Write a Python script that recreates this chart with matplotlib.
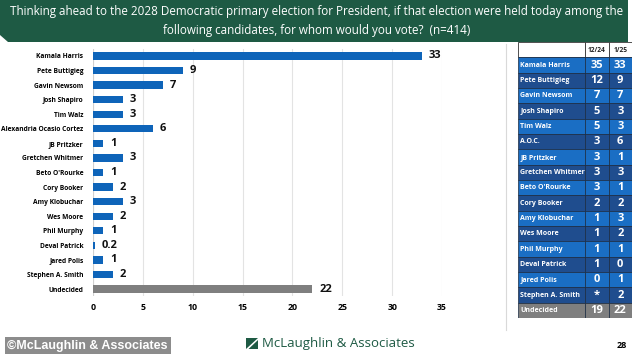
import matplotlib
matplotlib.use("Agg")
import matplotlib.pyplot as plt
from matplotlib.patches import Rectangle, Polygon

candidates = ["Kamala Harris", "Pete Buttigieg", "Gavin Newsom", "Josh Shapiro", "Tim Walz",
              "Alexandria Ocasio Cortez", "JB Pritzker", "Gretchen Whitmer", "Beto O'Rourke",
              "Cory Booker", "Amy Klobuchar", "Wes Moore", "Phil Murphy", "Deval Patrick",
              "Jared Polis", "Stephen A. Smith", "Undecided"]
values = [33, 9, 7, 3, 3, 6, 1, 3, 1, 2, 3, 2, 1, 0.2, 1, 2, 22]
value_labels = ["33", "9", "7", "3", "3", "6", "1", "3", "1", "2", "3", "2", "1", "0.2", "1", "2", "22"]
xticks = [0, 5, 10, 15, 20, 25, 30, 35]

table_names = ["Kamala Harris", "Pete Buttigieg", "Gavin Newsom", "Josh Shapiro", "Tim Walz",
               "A.O.C.", "JB Pritzker", "Gretchen Whitmer", "Beto O'Rourke", "Cory Booker",
               "Amy Klobuchar", "Wes Moore", "Phil Murphy", "Deval Patrick", "Jared Polis",
               "Stephen A. Smith", "Undecided"]
dec24 = ["35", "12", "7", "5", "5", "3", "3", "3", "3", "2", "1", "1", "1", "1", "0", "*", "19"]
jan25 = ["33", "9", "7", "3", "3", "6", "1", "3", "1", "2", "3", "2", "1", "0", "1", "2", "22"]
col_headers = ["12/24", "1/25"]

title = ("Thinking ahead to the 2028 Democratic primary election for President, if that election were held today among the\n"
         "following candidates, for whom would you vote?  (n=414)")

W, H = 634, 354
fig = plt.figure(figsize=(W / 100, H / 100), dpi=100)
fig.patch.set_facecolor("white")
FONT = ["Open Sans", "DejaVu Sans"]

def fx(px):
    return px / W

def fy(py):
    return 1 - py / H

bg = fig.add_axes([0, 0, 1, 1], zorder=0)
bg.set_xlim(0, W)
bg.set_ylim(H, 0)
bg.axis("off")
green = "#1e5a44"
bg.add_patch(Polygon([[0, 0], [628, 0], [628, 42], [8, 42], [0, 35]], closed=True,
                     facecolor=green, edgecolor="none"))
bg.text(317, 21, title, ha="center", va="center", color="white", fontsize=8.4,
        family=FONT, linespacing=1.55)

bg.plot([506, 506], [44, 330], color="#d9d9d9", lw=0.8)

bg.add_patch(Rectangle((5, 337), 166, 17, facecolor="#8c8c8c", edgecolor="none"))
bg.text(7, 346, "©McLaughlin & Associates", ha="left", va="center", color="white",
        fontsize=9, fontweight="bold", family=["Liberation Sans", "DejaVu Sans"])
bg.add_patch(Rectangle((246, 338), 12, 11, facecolor=green, edgecolor="none"))
bg.add_patch(Polygon([[246, 349], [258, 338], [258, 340], [248.5, 349]], closed=True,
                     facecolor="white", edgecolor="none"))
bg.text(262, 344, "McLaughlin & Associates", ha="left", va="center", color=green,
        fontsize=9.5, family=FONT)
bg.text(627, 346, "28", ha="right", va="center", color="black", fontsize=6.5,
        fontweight="bold", family=FONT)

n = len(candidates)
row_h = (289 - 56) / (n - 1)
top = 56 - row_h / 2
bottom = 289 + row_h / 2
ax = fig.add_axes([fx(93), fy(bottom), fx(442) - fx(93), (bottom - top) / H], zorder=1)
ax.set_facecolor("none")
ypos = list(range(n))
colors = ["#0e64b9"] * (n - 1) + ["#7f7f7f"]
ax.barh(ypos, values, height=0.5, color=colors, edgecolor="none", zorder=3)
for y, v, lab in zip(ypos, values, value_labels):
    ax.text(v + 0.7, y, lab, ha="left", va="center", fontsize=8, fontweight="bold",
            family=FONT, color="#111111", zorder=4)
ax.set_xlim(0, 35)
ax.set_ylim(n - 0.5, -0.5)
ax.set_xticks(xticks)
ax.set_xticklabels([str(t) for t in xticks], fontsize=6.3, fontweight="bold", family=FONT)
ax.set_yticks(ypos)
ax.set_yticklabels(candidates, fontsize=4.75, fontweight="bold", family=FONT)
ax.tick_params(axis="both", length=0)
ax.tick_params(axis="x", pad=5)
ax.tick_params(axis="y", pad=7)
ax.grid(axis="x", color="#e3e3e3", lw=0.8, zorder=0)
for s in ax.spines.values():
    s.set_visible(False)
ax.axvline(0, color="#d0d0d0", lw=0.8, zorder=2)

tx0, tx1 = 518, 632
ty0, ty1 = 42, 318
tax = fig.add_axes([fx(tx0), fy(ty1), (tx1 - tx0) / W, (ty1 - ty0) / H], zorder=2)
tax.set_xlim(0, tx1 - tx0)
nrows = len(table_names) + 1
tax.set_ylim(nrows, 0)
tax.axis("off")
col_x = [0, 67, 90.5, tx1 - tx0]
light, dark, grey = "#1a6ec4", "#1f4d8e", "#7f7f7f"
for c in range(3):
    tax.add_patch(Rectangle((col_x[c], 0), col_x[c + 1] - col_x[c], 1, facecolor="white",
                            edgecolor="#333333", lw=0.6))
for c, h in enumerate(col_headers):
    tax.text((col_x[c + 1] + col_x[c + 2]) / 2, 0.55, h, ha="center", va="center",
             fontsize=4.8, fontweight="bold", family=FONT, color="#222222")
for i, (nm, a, b) in enumerate(zip(table_names, dec24, jan25)):
    r = i + 1
    fc = grey if nm == "Undecided" else (light if i % 2 == 0 else dark)
    for c in range(3):
        tax.add_patch(Rectangle((col_x[c], r), col_x[c + 1] - col_x[c], 1, facecolor=fc,
                                edgecolor="#1a2a40", lw=0.5))
    tax.text(col_x[0] + 2.5, r + 0.52, nm, ha="left", va="center", fontsize=5,
             fontweight="bold", family=FONT, color="white")
    tax.text((col_x[1] + col_x[2]) / 2, r + 0.52, a, ha="center", va="center", fontsize=8,
             fontweight="bold", family=FONT, color="white")
    tax.text((col_x[2] + col_x[3]) / 2, r + 0.52, b, ha="center", va="center", fontsize=8,
             fontweight="bold", family=FONT, color="white")

fig.savefig("out.png", dpi=100, facecolor="white")
